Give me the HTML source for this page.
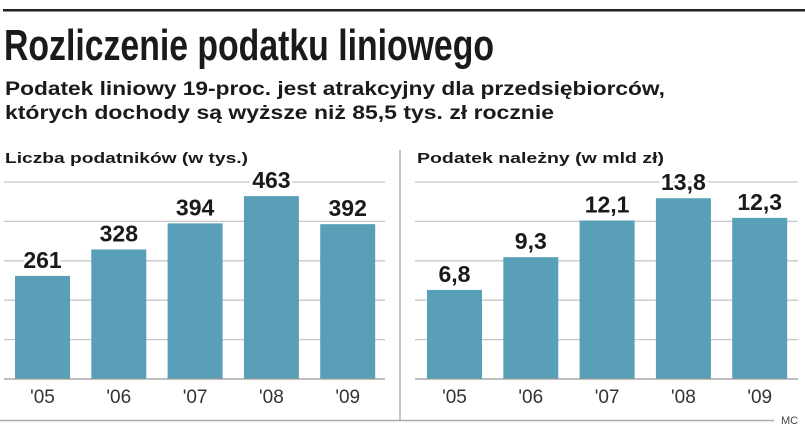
<!DOCTYPE html>
<html><head><meta charset="utf-8"><style>
html,body{margin:0;padding:0;background:#fff;}
svg{display:block;font-family:"Liberation Sans",sans-serif;}
</style></head><body>
<svg id="chart" width="805" height="429" viewBox="0 0 805 429" xmlns="http://www.w3.org/2000/svg">
<rect x="3" y="9" width="802" height="2.5" fill="#222"/>
<text x="4" y="60" font-size="44" font-weight="bold" font-family="'Liberation Sans Narrow','Liberation Sans',sans-serif" fill="#1a1a1a" textLength="490" lengthAdjust="spacingAndGlyphs">Rozliczenie podatku liniowego</text>
<text x="5" y="95" font-size="19" font-weight="bold" fill="#1a1a1a" textLength="660" lengthAdjust="spacingAndGlyphs">Podatek liniowy 19-proc. jest atrakcyjny dla przedsiębiorców,</text>
<text x="5" y="119" font-size="19" font-weight="bold" fill="#1a1a1a" textLength="549" lengthAdjust="spacingAndGlyphs">których dochody są wyższe niż 85,5 tys. zł rocznie</text>
<text x="5" y="163" font-size="15" font-weight="bold" fill="#1a1a1a" textLength="243" lengthAdjust="spacingAndGlyphs">Liczba podatników (w tys.)</text>
<text x="417" y="163" font-size="15" font-weight="bold" fill="#1a1a1a" textLength="247" lengthAdjust="spacingAndGlyphs">Podatek należny (w mld zł)</text>
<line x1="400" y1="150" x2="400" y2="421" stroke="#888" stroke-width="1"/>
<line x1="0" y1="420.5" x2="774" y2="420.5" stroke="#aaa" stroke-width="1.5"/>
<text x="781" y="424" font-size="11" fill="#444">MC</text>
<g id="left"></g><g id="right"></g>
</svg>
<script>
const years = ["'05","'06","'07","'08","'09"];
const taxpayers = [261, 328, 394, 463, 392];
const taxpayerLabels = ["261","328","394","463","392"];
const taxDue = [6.8, 9.3, 12.1, 13.8, 12.3];
const taxDueLabels = ["6,8","9,3","12,1","13,8","12,3"];

const NS = "http://www.w3.org/2000/svg";
const baseY = 379;
function mk(tag, attrs, parent){const e=document.createElementNS(NS,tag);for(const k in attrs)e.setAttribute(k,attrs[k]);parent.appendChild(e);return e;}
function drawPanel(g, x0, gridX1, gridX2, values, labels, pxPerUnit, prefix){
  const yScale = v => baseY - v*pxPerUnit;
  for(let i=1;i<=5;i++){
    const gy = baseY - i*39.4;
    const l = mk('line',{x1:gridX1,x2:gridX2,y1:gy,y2:gy,stroke:'#c8c8c8','stroke-width':1.3},g);
    
    
  }
  const step = 76.3, bw = 55;
  values.forEach((v,i)=>{
    const x = x0 + i*step;
    const top = yScale(v);
    const lab = labels[i];
    const t = mk('text',{x:x+bw/2,y:top-8,'text-anchor':'middle','font-size':23,'font-weight':'bold',fill:'#1a1a1a',stroke:'#fff','stroke-width':6,'paint-order':'stroke'},g);
    t.textContent = lab;
    
    
    const r = mk('rect',{x:x,y:top,width:bw,height:baseY-top,fill:'#5a9fb8'},g);
    
    
    const yl = mk('text',{x:x+bw/2,y:403,'text-anchor':'middle','font-size':19,fill:'#333'},g);
    yl.textContent = years[i];
    
    
  });
  const b = mk('line',{x1:gridX1,x2:gridX2,y1:baseY,y2:baseY,stroke:'#999','stroke-width':1.3},g);
  
  
}
drawPanel(document.getElementById('left'), 15, 4, 385, taxpayers, taxpayerLabels, 0.395, 'taxpayers');
drawPanel(document.getElementById('right'), 427, 415, 798, taxDue, taxDueLabels, 13.1, 'tax-due');
</script>
</body></html>
